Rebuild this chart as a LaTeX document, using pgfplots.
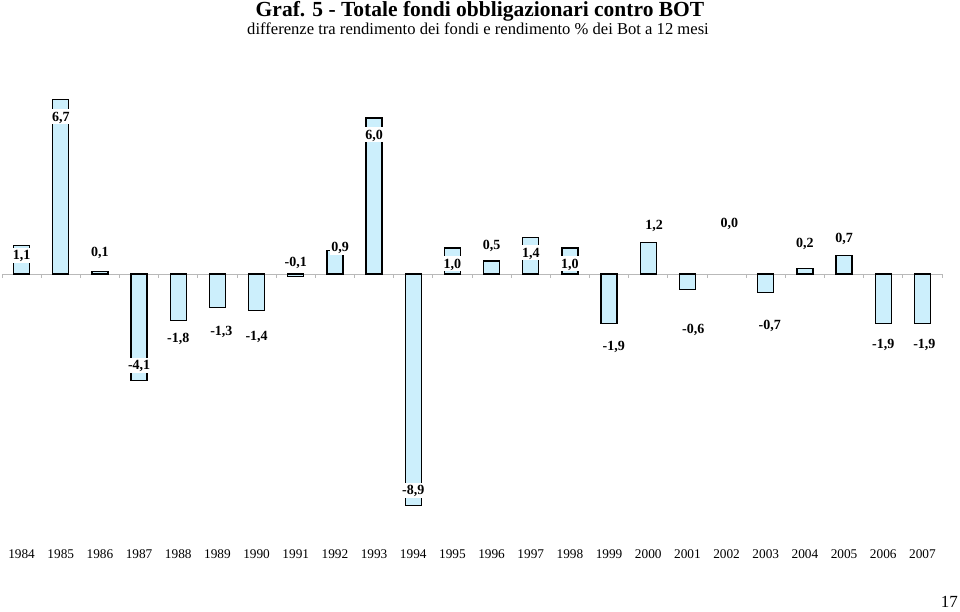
\documentclass[border=0pt]{standalone}
\usepackage{fontspec}
\setmainfont{Liberation Serif}
\usepackage{pgfplots}
\pgfplotsset{compat=1.18}
\usepackage{pgfplotstable}

% bar values (2002 = 0,0 has no visible bar)
\pgfplotstableread{
x y
0 1.1
1 6.7
2 0.1
3 -4.1
4 -1.8
5 -1.3
6 -1.4
7 -0.1
8 0.9
9 6.0
10 -8.9
11 1.0
12 0.5
13 1.4
14 1.0
15 -1.9
16 1.2
17 -0.6
19 -0.7
20 0.2
21 0.7
22 -1.9
23 -1.9
}\bars

% data labels: x and baseline of the text
\pgfplotstableread{
x y lbl
0 0.55 1,1
1 5.87 6,7
2 0.67 0,1
3 -3.69 -4,1
4 -2.65 -1,8
5.1 -2.35 -1,3
6 -2.54 -1,4
7 0.27 -0,1
8.13 0.85 0,9
9 5.19 6,0
10 -8.5 -8,9
11 0.22 1,0
12 0.96 0,5
13 0.65 1,4
14 0.22 1,0
15.12 -2.96 -1,9
16.15 1.73 1,2
17.15 -2.27 -0,6
18.07 1.77 0,0
19.1 -2.12 -0,7
20 1.0 0,2
21 1.23 0,7
22 -2.88 -1,9
23.05 -2.88 -1,9
}\labels

\begin{document}
\begin{tikzpicture}
\path[use as bounding box] (0,0) rectangle (960pt,612pt);
\node[font=\fontsize{21.5}{24}\selectfont\bfseries, anchor=base] at (480pt,595pt)
  {Graf. 5 - Totale fondi obbligazionari contro BOT};
\node[font=\fontsize{16.6}{19}\selectfont, anchor=base] at (478pt,577pt)
  {differenze tra rendimento dei fondi e rendimento \% dei Bot a 12 mesi};
\node[font=\fontsize{17}{20}\selectfont, anchor=base east, inner sep=0pt] at (958pt,4pt) {17};
\begin{axis}[
    at={(2pt,91pt)}, anchor=south west,
    scale only axis,
    width=940pt, height=434.2pt,
    xmin=-0.5, xmax=23.5,
    ymin=-9.5, ymax=7.2,
    axis x line=middle, axis y line=none,
    axis line style={-, gray!55, line width=0.8pt},
    xtick={0,...,23},
    xticklabels={1984,1985,1986,1987,1988,1989,1990,1991,1992,1993,1994,1995,
                 1996,1997,1998,1999,2000,2001,2002,2003,2004,2005,2006,2007},
    major tick length=0pt,
    minor xtick={-0.5,0.5,...,23.5},
    minor tick length=4pt,
    tick align=outside,
    minor tick style={gray!55, line width=0.8pt},
    xticklabel style={anchor=base, yshift=-284pt, font=\fontsize{13.3}{15}\selectfont},
    /pgf/number format/assume math mode=true,
    clip=false,
    ]
\addplot[ybar, bar width=16pt, fill=cyan!20, draw=black, line width=1.2pt] table[x=x, y=y] {\bars};
\addplot[draw=none, mark=none,
    point meta=explicit symbolic,
    nodes near coords,
    nodes near coords align={center},
    nodes near coords style={font=\fontsize{14}{16}\selectfont\bfseries,
        fill=white, inner xsep=1.5pt, inner ysep=0pt,
        text height=12pt, text depth=3pt, anchor=base}]
    table[x=x, y=y, meta=lbl] {\labels};
\end{axis}
\end{tikzpicture}
\end{document}
